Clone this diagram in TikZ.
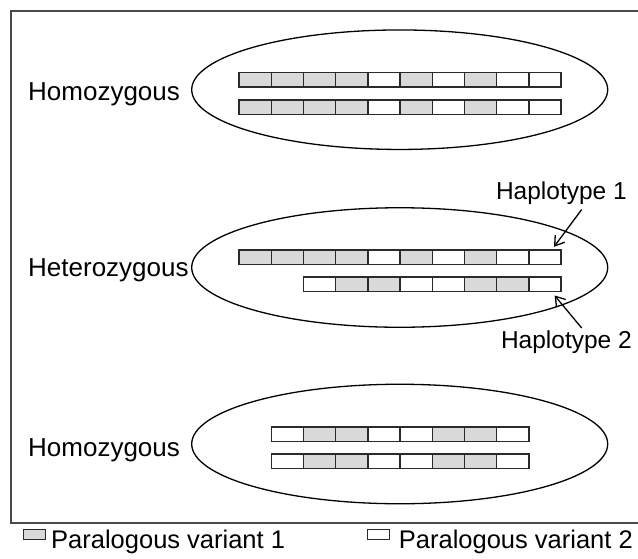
\documentclass[tikz,border=0pt]{standalone}
\usepackage{fontspec}
\setmainfont{Liberation Sans}
\usetikzlibrary{shapes.geometric,arrows.meta}
\definecolor{cellgray}{HTML}{D9D9D9}
\definecolor{framegray}{HTML}{4A4A4A}
\definecolor{celledge}{HTML}{2A2A2A}
\tikzset{
  cellbox/.style={draw=celledge,line width=1.5pt,rectangle,minimum width=32.2pt,minimum height=14.5pt,inner sep=0pt,anchor=north west},
  gcell/.style={cellbox,fill=cellgray},
  wcell/.style={cellbox,fill=white},
  oval/.style={draw=black,line width=1.3pt,ellipse,minimum width=416pt,minimum height=119.5pt,inner sep=0pt},
  lbl/.style={inner sep=0pt,font=\fontsize{26}{30}\selectfont},
  haplbl/.style={inner sep=0pt,font=\fontsize{24.5}{29}\selectfont},
  leglbl/.style={inner sep=0pt,font=\fontsize{25.5}{30}\selectfont},
  arr/.style={line width=1.3pt,-{Straight Barb[length=9pt,width=12pt,line width=1.3pt]}},
  frame/.style={draw=framegray,line width=2pt},
  legbox/.style={draw=celledge,line width=1.3pt,rectangle,minimum width=22pt,minimum height=10pt,inner sep=0pt,anchor=north west}
}
% draw a row of cells: #1 prefix, #2 x, #3 y, #4 list of g/w
\newcommand{\cellrow}[4]{%
  \foreach \c [count=\i from 0] in {#4} {
    \pgfmathsetmacro{\xx}{#2+32.2*\i}
    \node[\c cell] (#1c\i) at (\xx,#3) {};
  }%
}
\begin{document}
\begin{tikzpicture}[x=1pt,y=-1pt]
\useasboundingbox (0,0) rectangle (638,558);
\clip (0,0) rectangle (638,558);
\fill[white] (0,0) rectangle (638,558);
\draw[frame] (11,11) rectangle (660,523);

% ellipses
\node[oval] (e1) at (399.7,89.7) {};
\node[oval] (e2) at (399.7,267.5) {};
\node[oval] (e3) at (399.7,444) {};

% rows
\cellrow{a}{238.3}{71.7}{g,g,g,g,w,g,w,g,w,w}
\cellrow{b}{238.3}{99.3}{g,g,g,g,w,g,w,g,w,w}
\cellrow{h}{238.3}{249.3}{g,g,g,g,w,g,w,g,w,w}
\cellrow{k}{302.7}{276}{w,g,g,w,w,g,g,w}
\cellrow{m}{270.5}{426}{w,g,g,w,w,g,g,w}
\cellrow{n}{270.5}{453.3}{w,g,g,w,w,g,g,w}

% labels
\node[lbl,anchor=base west] (hom1) at (28,100.3) {Homozygous};
\node[lbl,anchor=base west] (het) at (28,276.5) {Heterozygous};
\node[lbl,anchor=base west] (hom2) at (28,456) {Homozygous};
\node[haplbl,anchor=base east] (hap1) at (627,199.5) {Haplotype 1};
\node[haplbl,anchor=base east] (hap2) at (632,348.5) {Haplotype 2};

% arrows
\coordinate (t1) at (581.7,209.5);
\coordinate (t2) at (581.7,328);
\draw[arr] (t1) -- ([shift={(-7.8pt,2.5pt)}]hc9.north east);
\draw[arr] (t2) -- ([shift={(-7.2pt,-3.5pt)}]kc7.south east);

% legend
\node[legbox,fill=cellgray] (lb1) at (23,529) {};
\node[leglbl,anchor=base west] (lt1) at (51,548) {Paralogous variant 1};
\node[legbox,fill=white] (lb2) at (367,529) {};
\node[leglbl,anchor=base east] (lt2) at (633,548) {Paralogous variant 2};
\end{tikzpicture}
\end{document}
